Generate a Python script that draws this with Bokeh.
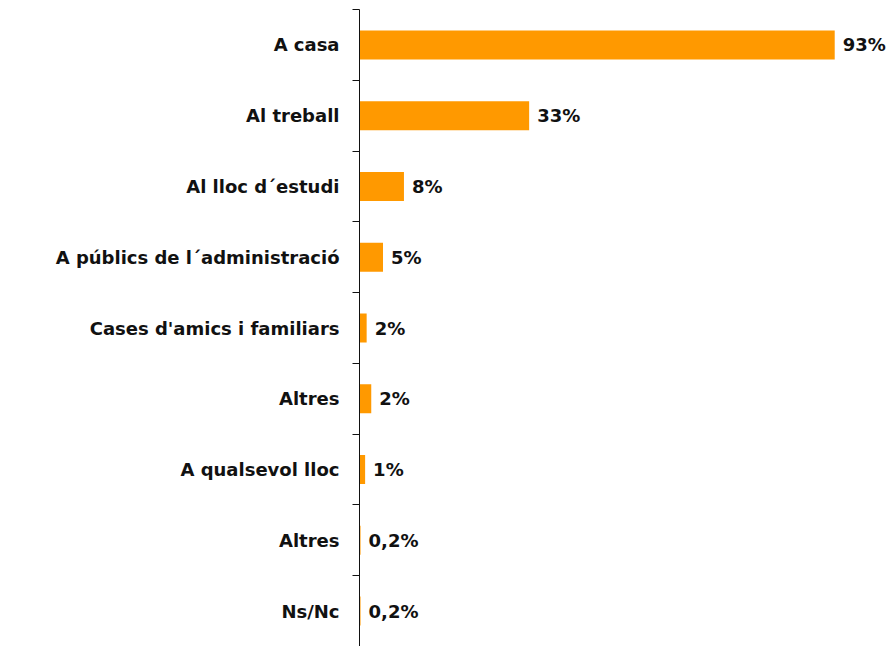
from bokeh.plotting import figure
from bokeh.models import Range1d, FixedTicker, CustomJSTickFormatter, ColumnDataSource
from bokeh.core.properties import value
from bokeh.embed import file_html
from bokeh.resources import INLINE

categories = ["A casa", "Al treball", "Al lloc d\u00b4estudi",
              "A p\u00fablics de l\u00b4administraci\u00f3",
              "Cases d'amics i familiars", "Altres", "A qualsevol lloc",
              "Altres", "Ns/Nc"]
values = [93, 33.2, 8.7, 4.6, 1.4, 2.3, 1.1, 0.2, 0.2]
value_labels = ["93%", "33%", "8%", "5%", "2%", "2%", "1%", "0,2%", "0,2%"]

FONT = "DejaVu Sans"
n = len(categories)
idx = list(range(n))

src = ColumnDataSource(dict(y=idx, v=values, lab=value_labels))

p = figure(width=894, height=646, output_backend="svg", toolbar_location=None,
           x_range=Range1d(0, 104.7), y_range=Range1d(n - 0.5, -0.5),
           min_border_left=359, min_border_right=0, min_border_top=9,
           min_border_bottom=0)
p.outline_line_color = None
p.grid.visible = False
p.xaxis.visible = False

p.hbar(y="y", right="v", left=0, height=0.41, source=src,
       fill_color="#FF9900", line_color=None)
p.text(x="v", y="y", text="lab", source=src, x_offset=8,
       text_align="left", text_baseline="middle",
       text_font=value(FONT), text_font_style="bold",
       text_font_size="18px", text_color="#111111")

ya = p.yaxis[0]
ya.ticker = FixedTicker(ticks=idx, minor_ticks=[i - 0.5 for i in range(n + 1)])
ya.formatter = CustomJSTickFormatter(args=dict(labels=categories),
                                     code="return labels[Math.round(tick)] || '';")
ya.major_tick_line_color = None
ya.major_tick_in = 0
ya.major_tick_out = 0
ya.minor_tick_in = 0
ya.minor_tick_out = 7
ya.minor_tick_line_color = "#111111"
ya.axis_line_color = "#111111"
ya.major_label_standoff = 13
ya.major_label_text_font = FONT
ya.major_label_text_font_style = "bold"
ya.major_label_text_font_size = "18px"
ya.major_label_text_color = "#111111"

open("out.html", "w").write(file_html(p, INLINE))
